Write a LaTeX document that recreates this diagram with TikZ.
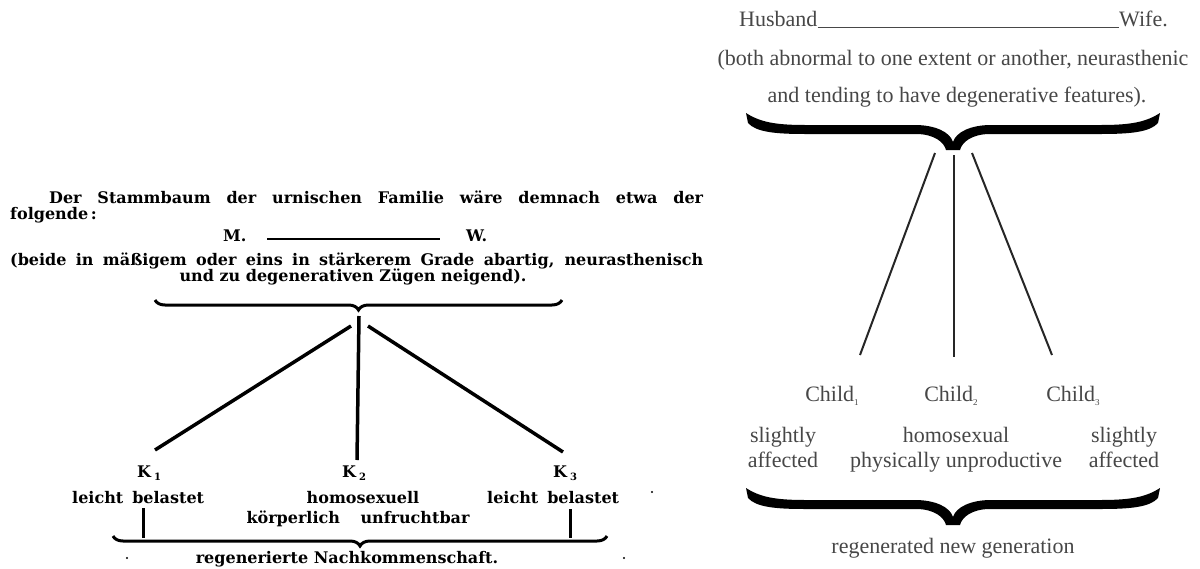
\documentclass[tikz,border=0pt]{standalone}
\usepackage{fontspec}
\setmainfont{Liberation Serif}
\newfontfamily\oldfont{DejaVu Serif}
\usetikzlibrary{decorations.pathreplacing}
\definecolor{grayink}{HTML}{474747}
\definecolor{lineink}{HTML}{262626}
\tikzset{
  bigbrace/.pic={
    \fill[black] (-207,-37) .. controls (-193,-28) and (-178,-25) .. (-148,-25)
      -- (-38,-25) .. controls (-18,-25) and (-3,-18) .. (0,-8)
      .. controls (3,-18) and (18,-25) .. (38,-25)
      -- (148,-25) .. controls (178,-25) and (193,-28) .. (207,-37)
      -- (205,-27) .. controls (197,-18) and (178,-16) .. (148,-16)
      -- (37,-16) .. controls (19,-16) and (9,-8) .. (7,0)
      -- (-7,0) .. controls (-9,-8) and (-19,-16) .. (-37,-16)
      -- (-148,-16) .. controls (-178,-16) and (-197,-18) .. (-205,-27) -- cycle;
  }
}
\begin{document}
\begin{tikzpicture}[x=1pt,y=-1pt,
  de/.style={inner sep=0pt, font=\oldfont\bfseries\fontsize{16}{18}\selectfont, text=black},
  en/.style={inner sep=0pt, font=\fontsize{22}{26}\selectfont, text=grayink},
  deline/.style={line width=3.5pt, draw=black},
  enline/.style={line width=2pt, draw=lineink},
  debrace/.style={decorate, decoration={brace, mirror, amplitude=10pt, aspect=0.5}, line width=3pt}
]
\useasboundingbox[fill=white] (0,0) rectangle (1200,568);

% ---------- left (German) ----------
\node[de, anchor=base west] (l1) at (49,203) {\makebox[654pt][s]{Der Stammbaum der urnischen Familie wäre demnach etwa der}};
\node[de, anchor=base west] (l2) at (10,219) {folgende\,:};
\node[de, anchor=base west] (M) at (223,241) {M.};
\node[de, anchor=base west] (W) at (466,241) {W.};
\coordinate (mL) at (267,239);
\coordinate (mR) at (440,239);
\draw[line width=2.5pt] (mL) -- (mR);
\node[de, anchor=base west] (l4) at (10,265) {\makebox[693pt][s]{(beide in mäßigem oder eins in stärkerem Grade abartig, neurasthenisch}};
\node[de, anchor=base] (l5) at (353,281) {und zu degenerativen Zügen neigend).};

\coordinate (bTL) at (155,300);
\coordinate (bTR) at (562,300);
\draw[debrace] (bTL) -- (bTR);

\coordinate (apex) at (359,316);
\coordinate (aL) at (351,326);
\coordinate (aR) at (368,326);
\coordinate (k1t) at (155,450);
\coordinate (k2t) at (357,460);
\coordinate (k3t) at (563,452);
\draw[deline] (aL) -- (k1t);
\draw[deline] (apex) -- (k2t);
\draw[deline] (aR) -- (k3t);

\node[de, anchor=base west] (K1) at (137,477) {K\kern3pt\raisebox{-3pt}{\fontsize{10}{10}\selectfont 1}};
\node[de, anchor=base west] (K2) at (342,477) {K\kern3pt\raisebox{-3pt}{\fontsize{10}{10}\selectfont 2}};
\node[de, anchor=base west] (K3) at (553,477) {K\kern3pt\raisebox{-3pt}{\fontsize{10}{10}\selectfont 3}};

\node[de, anchor=base west] (lb1) at (72,503) {leicht\hspace{9pt}belastet};
\node[de, anchor=base] (homo) at (363,503) {homosexuell};
\node[de, anchor=base] (koerp) at (358,523) {\makebox[223pt][s]{körperlich unfruchtbar}};
\node[de, anchor=base west] (lb3) at (487,503) {leicht\hspace{9pt}belastet};

\coordinate (t1a) at (143,508);
\coordinate (t1b) at (143,538);
\coordinate (t3a) at (570,509);
\coordinate (t3b) at (570,538);
\draw[line width=3pt] (t1a) -- (t1b);
\draw[line width=3pt] (t3a) -- (t3b);

\coordinate (bBL) at (113,536);
\coordinate (bBR) at (607,536);
\draw[debrace] (bBL) -- (bBR);
\node[de, anchor=base] (regen) at (347,563) {regenerierte Nachkommenschaft.};

\fill (127,558) circle (1.2);
\fill (624,558) circle (1.2);
\fill (652,492) circle (1.2);

% ---------- right (English) ----------
\node[en, anchor=base west] (hus) at (739,26) {Husband};
\node[en, anchor=base east] (wife) at (1168,26) {Wife.};
\draw[line width=1pt, grayink] ([yshift=-1.5pt]hus.base east) -- ([yshift=-1.5pt]wife.base west);
\node[en, anchor=base] (both) at (953,65) {(both abnormal to one extent or another, neurasthenic};
\node[en, anchor=base] (tend) at (957,102) {and tending to have degenerative features).};

\pic at (953,150) {bigbrace};

\coordinate (rL0) at (935,153);
\coordinate (rC0) at (954,155);
\coordinate (rR0) at (972,153);
\coordinate (rL1) at (860,355);
\coordinate (rC1) at (954,357);
\coordinate (rR1) at (1052,355);
\draw[enline] (rL0) -- (rL1);
\draw[enline] (rC0) -- (rC1);
\draw[enline] (rR0) -- (rR1);

\node[en, anchor=base] (c1) at (832,401) {Child\raisebox{-4pt}{\fontsize{9}{9}\selectfont 1}};
\node[en, anchor=base] (c2) at (951,401) {Child\raisebox{-4pt}{\fontsize{9}{9}\selectfont 2}};
\node[en, anchor=base] (c3) at (1073,401) {Child\raisebox{-4pt}{\fontsize{9}{9}\selectfont 3}};

\node[en, anchor=base] (s1) at (783,442) {slightly};
\node[en, anchor=base] (a1) at (783,467) {affected};
\node[en, anchor=base] (hs) at (956,442) {homosexual};
\node[en, anchor=base] (pu) at (956,467) {physically unproductive};
\node[en, anchor=base] (s3) at (1124,442) {slightly};
\node[en, anchor=base] (a3) at (1124,467) {affected};

\pic at (953,525) {bigbrace};
\node[en, anchor=base] (rng) at (953,553) {regenerated new generation};
\end{tikzpicture}
\end{document}
